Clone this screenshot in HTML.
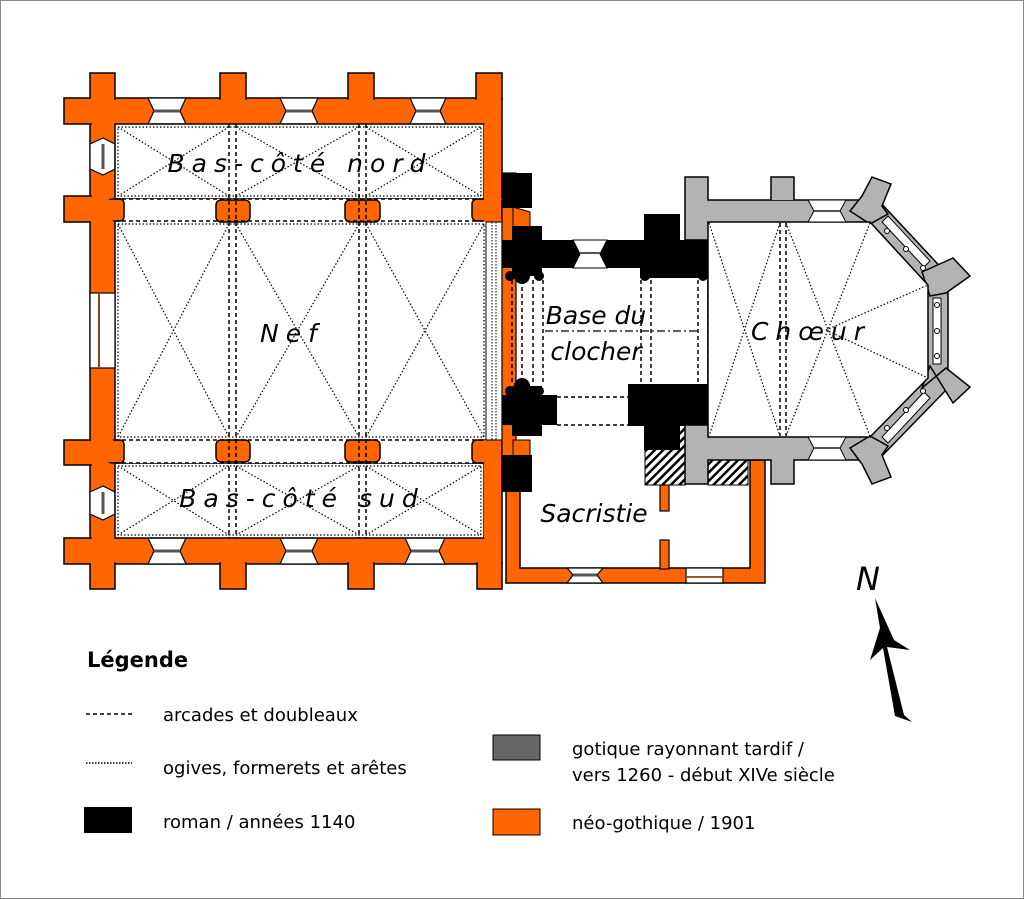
<!DOCTYPE html>
<html><head><meta charset="utf-8"><style>
html,body{margin:0;padding:0;background:#fff}
svg{display:block}
text{font-family:"DejaVu Sans","Liberation Sans",sans-serif}
</style></head><body>
<svg width="1024" height="899" viewBox="0 0 1024 899" xmlns="http://www.w3.org/2000/svg">
<rect x="0.5" y="0.5" width="1023" height="898" fill="#fff" stroke="#888" stroke-width="1"/>

<g fill="#ff6600" stroke="#000" stroke-width="1.5">
  <rect x="90" y="98" width="412" height="466"/>
  <rect x="90" y="73" width="25" height="26"/>
  <rect x="220" y="73" width="26" height="26"/>
  <rect x="348" y="73" width="26" height="26"/>
  <rect x="476" y="73" width="26" height="26"/>
  <rect x="90" y="563" width="25" height="26"/>
  <rect x="220" y="563" width="26" height="26"/>
  <rect x="348" y="563" width="26" height="26"/>
  <rect x="477" y="563" width="25" height="26"/>
  <rect x="64" y="98" width="27" height="26"/>
  <rect x="64" y="196" width="27" height="26"/>
  <rect x="64" y="440" width="27" height="25"/>
  <rect x="64" y="538" width="27" height="26"/>
</g>
<g fill="#ff6600">
  <rect x="91" y="74" width="23" height="26"/>
  <rect x="221" y="74" width="24" height="26"/>
  <rect x="349" y="74" width="24" height="26"/>
  <rect x="477" y="74" width="24" height="26"/>
  <rect x="91" y="562" width="23" height="26"/>
  <rect x="221" y="562" width="24" height="26"/>
  <rect x="349" y="562" width="24" height="26"/>
  <rect x="478" y="562" width="23" height="26"/>
  <rect x="88" y="99" width="4" height="24"/>
  <rect x="88" y="197" width="4" height="24"/>
  <rect x="88" y="441" width="4" height="23"/>
  <rect x="88" y="539" width="4" height="24"/>
</g>
<g fill="#fff" stroke="#000" stroke-width="1.2">
  <polygon points="148,98 186,98 180,111 186,124 148,124 154,111"/>
  <polygon points="280,98 318,98 312,111 318,124 280,124 286,111"/>
  <polygon points="410,98 446,98 440,111 446,124 410,124 416,111"/>
  <polygon points="148,538 186,538 180,551 186,564 148,564 154,551"/>
  <polygon points="280,538 318,538 312,551 318,564 280,564 286,551"/>
  <polygon points="405,538 445,538 439,551 445,564 405,564 411,551"/>
  <polygon points="90,144 103,138 115,144 115,169 103,175 90,169"/>
  <polygon points="90,492 103,486 115,492 115,514 103,520 90,514"/>
</g>
<g stroke="#555" stroke-width="3">
  <line x1="154" y1="111" x2="180" y2="111"/><line x1="286" y1="111" x2="312" y2="111"/><line x1="416" y1="111" x2="440" y2="111"/>
  <line x1="154" y1="551" x2="180" y2="551"/><line x1="286" y1="551" x2="312" y2="551"/><line x1="411" y1="551" x2="439" y2="551"/>
  <line x1="103" y1="144" x2="103" y2="169"/><line x1="103" y1="492" x2="103" y2="514"/>
</g>
<g fill="#fff" stroke="#000" stroke-width="1.5">
  <rect x="115" y="124" width="369" height="75"/>
  <rect x="115" y="463" width="369" height="75"/>
</g>
<rect x="115" y="199" width="387" height="264" fill="#fff"/>
<line x1="115" y1="199" x2="115" y2="463" stroke="#000" stroke-width="1.5"/>
<g fill="#ff6600" stroke="#000" stroke-width="1.5">
  <rect x="108" y="199" width="16" height="22" rx="4"/>
  <rect x="108" y="440" width="16" height="23" rx="4"/>
  <rect x="216" y="200" width="34" height="22" rx="5"/>
  <rect x="345" y="200" width="35" height="22" rx="5"/>
  <rect x="216" y="440" width="34" height="22" rx="5"/>
  <rect x="345" y="440" width="35" height="22" rx="5"/>
  <rect x="472" y="199" width="30" height="22" rx="5"/>
  <rect x="472" y="440" width="30" height="23" rx="5"/>
</g>
<rect x="91" y="200" width="22" height="262" fill="#ff6600"/>
<rect x="90" y="293" width="25" height="75" fill="#fff" stroke="#000" stroke-width="1.2"/>
<line x1="99" y1="293" x2="99" y2="368" stroke="#8b4513" stroke-width="2"/>
<rect x="484" y="124" width="17" height="98" fill="#ff6600"/>
<rect x="484" y="440" width="17" height="98" fill="#ff6600"/>
<rect x="486" y="222" width="16" height="218" fill="#fff" stroke="#000" stroke-width="1"/>
<g stroke="#000" stroke-width="1" stroke-dasharray="1.5,1.5" fill="none">
  <line x1="492" y1="222" x2="492" y2="440"/><line x1="496" y1="222" x2="496" y2="440"/>
</g>

<g stroke="#000" stroke-width="1.5" stroke-dasharray="4,3" fill="none">
  <line x1="115" y1="199" x2="484" y2="199"/>
  <line x1="115" y1="221" x2="486" y2="221"/>
  <line x1="115" y1="440" x2="486" y2="440"/>
  <line x1="115" y1="463" x2="484" y2="463"/>
  <line x1="229" y1="124" x2="229" y2="538"/><line x1="236" y1="124" x2="236" y2="538"/>
  <line x1="359" y1="124" x2="359" y2="538"/><line x1="366" y1="124" x2="366" y2="538"/>
</g>
<g stroke="#000" stroke-width="1.2" stroke-dasharray="1.5,2" fill="none">
  <rect x="118" y="127" width="363" height="69"/>
  <rect x="118" y="466" width="363" height="69"/>
  <rect x="118" y="224" width="366" height="213"/>
  <path d="M118,127 L229,196 M229,127 L118,196 M236,127 L359,196 M359,127 L236,196 M366,127 L481,196 M481,127 L366,196"/>
  <path d="M118,466 L229,535 M229,466 L118,535 M236,466 L359,535 M359,466 L236,535 M366,466 L481,535 M481,466 L366,535"/>
  <path d="M118,224 L229,437 M229,224 L118,437 M236,224 L359,437 M359,224 L236,437 M366,224 L484,437 M484,224 L366,437"/>
</g>

<path d="M506,460 H520 V568 H750 V460 H765 V583 H506 Z" fill="#ff6600" stroke="#000" stroke-width="1.5"/>
<polygon points="567,568 603,568 597,575 603,583 567,583 573,575" fill="#fff" stroke="#000" stroke-width="1.2"/>
<line x1="573" y1="575" x2="597" y2="575" stroke="#555" stroke-width="3"/>
<rect x="686" y="568" width="37" height="15" fill="#fff" stroke="#000" stroke-width="1.2"/>
<line x1="686" y1="577" x2="723" y2="577" stroke="#a0522d" stroke-width="2"/>
<rect x="660" y="485" width="9" height="26" fill="#ff6600" stroke="#000" stroke-width="1.2"/>
<rect x="660" y="540" width="9" height="29" fill="#ff6600" stroke="#000" stroke-width="1.2"/>
<defs><pattern id="h" width="6" height="6" patternUnits="userSpaceOnUse" patternTransform="rotate(45)"><rect width="6" height="6" fill="#fff"/><rect width="2.5" height="6" fill="#000"/></pattern></defs>
<rect x="645" y="425" width="40" height="60" fill="url(#h)" stroke="#000" stroke-width="1"/>
<rect x="708" y="458" width="40" height="27" fill="url(#h)" stroke="#000" stroke-width="1"/>

<rect x="502" y="173" width="14" height="300" fill="#ff6600" stroke="#000" stroke-width="1.2"/>
<polygon points="513,207 530,212 530,232 513,232" fill="#ff6600" stroke="#000" stroke-width="1"/>
<polygon points="513,440 530,440 530,458 513,462" fill="#ff6600" stroke="#000" stroke-width="1"/>

<g fill="#000">
  <rect x="502" y="173" width="30" height="35"/>
  <rect x="502" y="455" width="30" height="37"/>
  <rect x="512" y="226" width="30" height="50"/>
  <rect x="502" y="240" width="206" height="28"/>
  <rect x="644" y="214" width="36" height="56"/>
  <rect x="640" y="240" width="68" height="38"/>
  <circle cx="522" cy="276" r="8"/><circle cx="510" cy="276" r="5"/><circle cx="539" cy="276" r="5"/>
  <circle cx="645" cy="276" r="5"/><circle cx="703" cy="276" r="5"/>
  <rect x="512" y="386" width="30" height="50"/>
  <rect x="502" y="395" width="55" height="30"/>
  <circle cx="522" cy="386" r="8"/><circle cx="510" cy="391" r="5"/><circle cx="539" cy="391" r="5"/>
  <rect x="628" y="384" width="80" height="42"/>
  <rect x="644" y="384" width="36" height="66"/>
  <circle cx="645" cy="389" r="5"/><circle cx="703" cy="389" r="5"/>
</g>
<polygon points="573,240 607,240 600,254 607,268 573,268 580,254" fill="#fff" stroke="#000" stroke-width="1"/>
<line x1="580" y1="253" x2="600" y2="253" stroke="#555" stroke-width="2"/>
<g stroke="#000" stroke-width="1.5" stroke-dasharray="4,3" fill="none">
  <line x1="512" y1="280" x2="512" y2="385"/><line x1="522" y1="280" x2="522" y2="385"/>
  <line x1="533" y1="280" x2="533" y2="385"/><line x1="543" y1="280" x2="543" y2="385"/>
  <line x1="641" y1="280" x2="641" y2="385"/><line x1="651" y1="280" x2="651" y2="385"/>
  <line x1="698" y1="280" x2="698" y2="385"/><line x1="708" y1="280" x2="708" y2="385"/>
  <line x1="557" y1="397" x2="628" y2="397"/><line x1="557" y1="425" x2="628" y2="425"/>
</g>
<line x1="545" y1="331" x2="698" y2="331" stroke="#000" stroke-width="1.2" stroke-dasharray="8,3,2,3"/>

<!-- Choir -->
<g fill="#b3b3b3" stroke="#000" stroke-width="1.5">
  <path d="M685,177 H708 V200 H878 L948,275 V388 L878,460 H794 V484 H771 V460 H708 V484 H685 V425 H708 V240 H685 Z"/>
  <path d="M771,200 V177 H794 V200"/>
  <polygon points="850,211 862,196 872,177 891,184 882,206 888,214 870,224"/>
  <polygon points="922,272 953,258 970,276 946,293 930,296"/>
  <polygon points="922,388 946,368 970,387 953,403 930,366"/>
  <polygon points="850,448 870,436 888,446 882,455 891,477 872,484 862,464"/>
</g>
<polygon points="708,222 870,222 928,285 928,378 870,437 708,437" fill="#fff" stroke="#000" stroke-width="1.5"/>
<polygon points="808,200 846,200 840,211 846,222 808,222 814,211" fill="#fff" stroke="#000" stroke-width="1"/>
<polygon points="808,437 846,437 840,448 846,460 808,460 814,448" fill="#fff" stroke="#000" stroke-width="1"/>
<line x1="814" y1="211" x2="840" y2="211" stroke="#555" stroke-width="2"/>
<line x1="814" y1="448" x2="840" y2="448" stroke="#555" stroke-width="2"/>
<g fill="#fff" stroke="#000" stroke-width="1">
  <polygon points="882,222 888,216 930,261 924,267"/>
  <rect x="933" y="298" width="8" height="66"/>
  <polygon points="882,437 888,443 930,398 924,392"/>
</g>
<g fill="#fff" stroke="#000" stroke-width="1">
  <circle cx="887" cy="231" r="2.5"/><circle cx="906" cy="249" r="2.5"/><circle cx="923" cy="268" r="2.5"/>
  <circle cx="937" cy="305" r="2.5"/><circle cx="937" cy="331" r="2.5"/><circle cx="937" cy="356" r="2.5"/>
  <circle cx="887" cy="428" r="2.5"/><circle cx="906" cy="410" r="2.5"/><circle cx="923" cy="391" r="2.5"/>
</g>
<g stroke="#000" stroke-width="1.2" stroke-dasharray="1.5,2" fill="none">
  <path d="M709,223 L780,436 M780,223 L709,436 M786,223 L870,436 M870,223 L786,436"/>
  <path d="M826,330 L928,285 M826,330 L928,378"/>
</g>
<g stroke="#000" stroke-width="1.5" stroke-dasharray="4,3">
  <line x1="780" y1="223" x2="780" y2="436"/><line x1="786" y1="223" x2="786" y2="436"/>
</g>

<g font-style="italic" font-size="25" fill="#000" text-anchor="middle">
  <text x="300" y="172" letter-spacing="7">Bas-côté nord</text>
  <text x="292" y="342" letter-spacing="7">Nef</text>
  <text x="302" y="507" letter-spacing="7">Bas-côté sud</text>
  <text x="596" y="324">Base du</text>
  <text x="596" y="360">clocher</text>
  <text x="594" y="522">Sacristie</text>
  <text x="811" y="340" letter-spacing="7">Chœur</text>
</g>

<text x="868" y="590" font-family="Liberation Serif,serif" font-style="italic" font-size="32" text-anchor="middle">N</text>
<polygon points="875,598 894,640 910,650 887,647 904,715 912,722 895,716 883,648 870,660 880,628" fill="#000"/>

<text x="87" y="667" font-size="21" font-weight="bold">Légende</text>
<g font-size="18" fill="#000">
  <text x="163" y="721">arcades et doubleaux</text>
  <text x="163" y="774">ogives, formerets et arêtes</text>
  <text x="163" y="828">roman / années 1140</text>
  <text x="572" y="755">gotique rayonnant tardif /</text>
  <text x="572" y="781">vers 1260 - début XIVe siècle</text>
  <text x="572" y="829">néo-gothique / 1901</text>
</g>
<line x1="86" y1="714" x2="134" y2="714" stroke="#000" stroke-width="1.5" stroke-dasharray="4,3"/>
<line x1="86" y1="763" x2="132" y2="763" stroke="#000" stroke-width="1.5" stroke-dasharray="1.5,1.5"/>
<rect x="84" y="807" width="48" height="26" fill="#000"/>
<rect x="493" y="735" width="47" height="25" fill="#666" stroke="#000" stroke-width="1"/>
<rect x="493" y="809" width="47" height="26" fill="#ff6600" stroke="#000" stroke-width="1"/>
</svg>
</body></html>
